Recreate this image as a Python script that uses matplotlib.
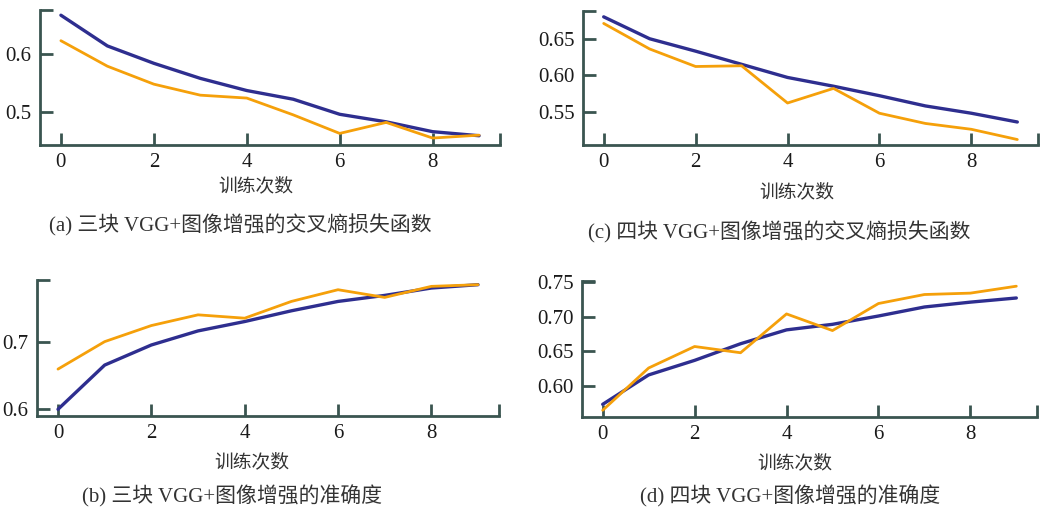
import matplotlib.pyplot as plt
import numpy as np

plt.rcParams['font.family'] = ['Liberation Serif', 'Noto Sans CJK SC']

epochs = np.arange(10)

# (a) three-block VGG, cross-entropy loss
loss3_blue = [0.667, 0.614, 0.584, 0.558, 0.537, 0.522, 0.496, 0.483, 0.466, 0.459]
loss3_orange = [0.623, 0.579, 0.548, 0.529, 0.524, 0.495, 0.463, 0.482, 0.455, 0.460]

# (c) four-block VGG, cross-entropy loss
loss4_blue = [0.680, 0.650, 0.633, 0.615, 0.597, 0.585, 0.572, 0.558, 0.548, 0.536]
loss4_orange = [0.671, 0.636, 0.612, 0.613, 0.562, 0.582, 0.548, 0.534, 0.526, 0.512]

# (b) three-block VGG, accuracy
acc3_blue = [0.600, 0.666, 0.696, 0.717, 0.731, 0.747, 0.761, 0.770, 0.781, 0.786]
acc3_orange = [0.660, 0.701, 0.725, 0.741, 0.736, 0.761, 0.7785, 0.767, 0.7835, 0.786]

# (d) four-block VGG, accuracy
acc4_blue = [0.5736, 0.616, 0.637, 0.661, 0.681, 0.689, 0.701, 0.714, 0.721, 0.727]
acc4_orange = [0.565, 0.626, 0.657, 0.648, 0.704, 0.680, 0.719, 0.732, 0.734, 0.744]

captions = ['(a) 三块 VGG+图像增强的交叉熵损失函数',
            '(c) 四块 VGG+图像增强的交叉熵损失函数',
            '(b) 三块 VGG+图像增强的准确度',
            '(d) 四块 VGG+图像增强的准确度']

BLUE = '#2e2e8f'
ORANGE = '#f5a00a'
SPINE = '#3a5550'

W, H = 1050, 509
fig = plt.figure(figsize=(W / 100, H / 100), dpi=100)


def make_axes(left, right, top, bottom):
    return fig.add_axes([left / W, 1 - bottom / H, (right - left) / W, (bottom - top) / H])


# axes box, data, y range, y ticks, label format, x-label pos, caption pos (pixels)
panels = [
    (make_axes(40, 500, 10, 145), loss3_blue, loss3_orange, (0.443, 0.676), [0.5, 0.6], '{:.1f}', (256, 186), (240, 225)),
    (make_axes(583, 1038, 11, 145), loss4_blue, loss4_orange, (0.5045, 0.688), [0.55, 0.60, 0.65], '{:.2f}', (797, 192), (779, 232)),
    (make_axes(37, 499, 280, 416), acc3_blue, acc3_orange, (0.590, 0.793), [0.6, 0.7], '{:.1f}', (252, 462), (232, 496)),
    (make_axes(582, 1037, 281, 417), acc4_blue, acc4_orange, (0.5553, 0.7515), [0.60, 0.65, 0.70, 0.75], '{:.2f}', (795, 463), (790, 496)),
]

for i, (ax, blue, orange, ylim, yticks, fmt, xlab, cap) in enumerate(panels):
    ax.plot(epochs, blue, color=BLUE, lw=2.4, solid_capstyle='round')
    ax.plot(epochs, orange, color=ORANGE, lw=2.0, solid_capstyle='round')
    ax.set_xlim(-0.45, 9.45)
    ax.set_ylim(*ylim)
    ax.set_xticks([0, 2, 4, 6, 8])
    ax.set_yticks(yticks)
    ax.set_yticklabels([fmt.format(v) for v in yticks])
    # small end marks at the axis limits, like brackets
    ax.set_xticks([9.45], minor=True)
    ax.set_yticks([ylim[1]], minor=True)
    for s in ['top', 'right']:
        ax.spines[s].set_visible(False)
    for s in ['left', 'bottom']:
        ax.spines[s].set_color(SPINE)
        ax.spines[s].set_linewidth(2)
    ax.tick_params(which='both', direction='in', length=9, width=2, color=SPINE,
                   labelsize=15, labelcolor='#1a1a1a', pad=6)

    fig.text(xlab[0] / W, 1 - xlab[1] / H, '训练次数',
             ha='center', va='center', fontsize=13.5, color='#333333',
             family=['Noto Sans CJK SC'])
    fig.text(cap[0] / W, 1 - cap[1] / H, captions[i], ha='center', va='center',
             fontsize=15, color='#333333')

fig.savefig('out.png', dpi=100)
